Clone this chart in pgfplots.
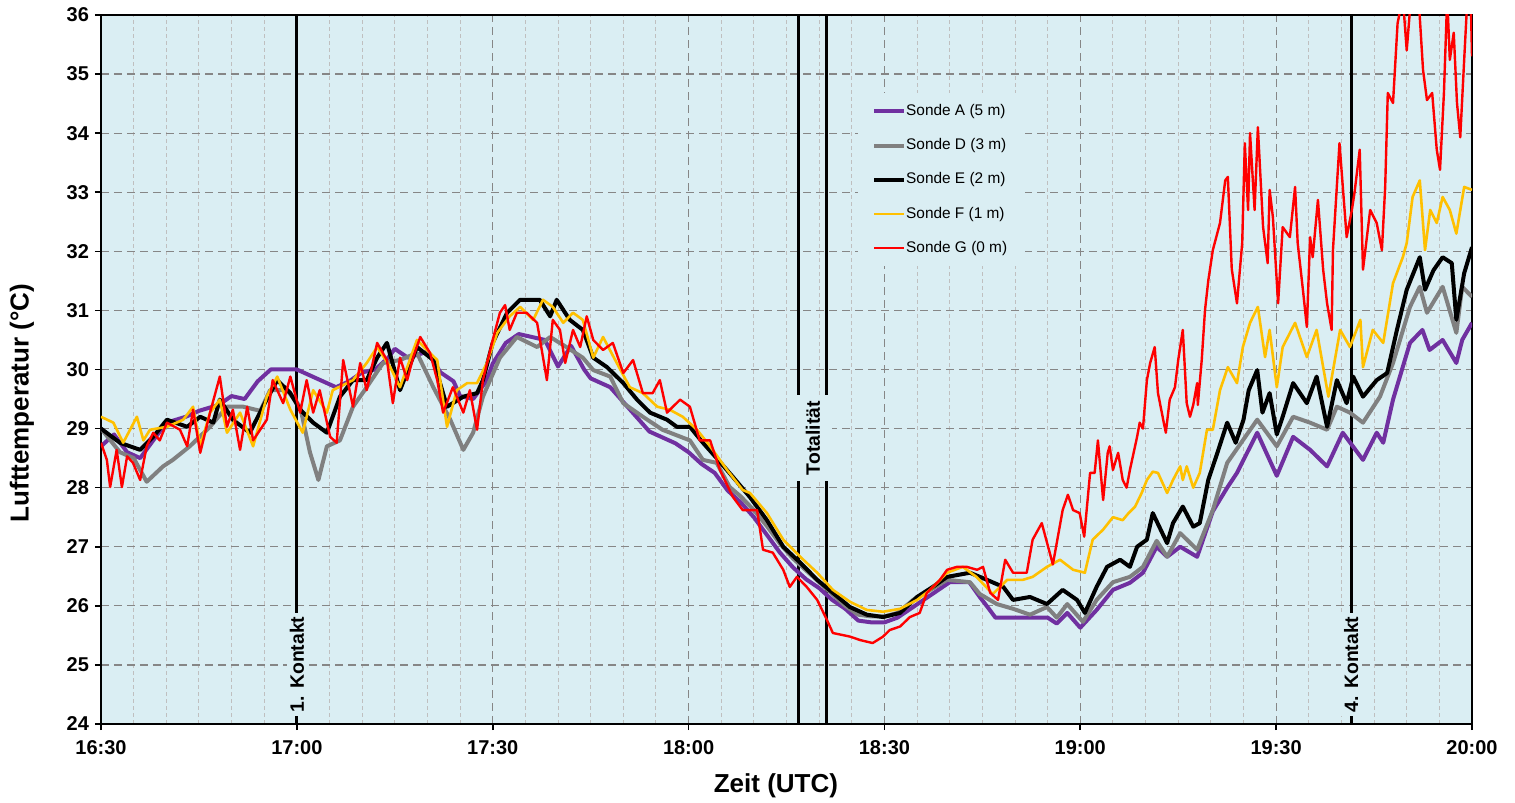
\documentclass[border=0pt]{standalone}
\usepackage{fontspec}
\setmainfont{Liberation Sans}
\usepackage{pgfplots}
\pgfplotsset{compat=1.18}
\definecolor{bgblue}{HTML}{DAEEF3}
\definecolor{sA}{HTML}{7030A0}
\definecolor{sD}{HTML}{808080}
\definecolor{sF}{HTML}{FFC000}
\definecolor{sG}{HTML}{FF0000}
\definecolor{gridc}{HTML}{868686}
\definecolor{minorc}{HTML}{BFBFBF}
\begin{document}
\begin{tikzpicture}
\begin{axis}[
  scale only axis, width=685.5pt, height=354.5pt,
  xmin=0, xmax=210, ymin=24, ymax=36,
  xtick={0,30,...,210},
  xticklabels={16:30,17:00,17:30,18:00,18:30,19:00,19:30,20:00},
  minor x tick num=5,
  ytick={24,25,...,36},
  tick pos=left, tick align=outside,
  major tick length=3pt, minor tick length=0pt,
  major tick style={black, line width=0.8pt},
  grid=both,
  major grid style={gridc, dash pattern=on 4pt off 2.5pt, line width=0.6pt},
  minor grid style={minorc, dash pattern=on 2pt off 1.5pt, line width=0.5pt},
  axis background/.style={fill=bgblue},
  axis line style={black, line width=1pt},
  ticklabel style={font=\bfseries\fontsize{10}{12}\selectfont},
  xticklabel style={yshift=-1.5pt},
  yticklabel style={xshift=0.5pt},
  /pgf/number format/assume math mode=true,
  xlabel={Zeit (UTC)}, ylabel={Lufttemperatur (°C)},
  label style={font=\bfseries\fontsize{13}{15}\selectfont},
  xlabel style={at={(axis description cs:0.4923,-0.087)},anchor=center},
  ylabel style={at={(axis description cs:-0.0576,0.4527)},anchor=center},
  legend cell align=left,
  legend image code/.code={\draw[#1] (0pt,0pt) -- (15pt,0pt);},
  legend style={at={(0.552,0.89)}, anchor=north west, fill=bgblue, draw=none,
    font=\fontsize{7.7}{9}\selectfont, row sep=6pt, inner xsep=7pt, inner ysep=3.5pt,
    /tikz/every odd column/.append style={column sep=-2pt}},
  every axis plot/.append style={line join=round},
]
\coordinate (sw) at (rel axis cs:0,0);
\coordinate (ne) at (rel axis cs:1,1);
% event lines
\addplot[black, line width=1.5pt, forget plot] coordinates {(30,24) (30,36)};
\addplot[black, line width=1.5pt, forget plot] coordinates {(106.9,24) (106.9,36)};
\addplot[black, line width=1.5pt, forget plot] coordinates {(111.2,24) (111.2,36)};
\addplot[black, line width=1.5pt, forget plot] coordinates {(191.5,24) (191.5,36)};

\addplot[sA, line width=2pt] coordinates {
(0,28.7) (2,28.9) (4,28.6) (6,28.5) (8,28.8) (10,29.1) (13,29.2) (15,29.3) (18,29.4) (20,29.55) (22,29.5) (24,29.8) (26,30.0) (28,30.0) (30,30.0) (32,29.9) (34,29.8) (36,29.7) (38,29.8) (40,29.95) (42,30.0) (44,30.2) (45,30.35) (47,30.2) (50,30.3) (52,29.95) (54,29.8) (55,29.55) (57,29.5) (59,29.8) (60,30.1) (62,30.45) (64,30.6) (66,30.55) (68,30.5) (70,30.05) (72,30.4) (74,30.0) (75,29.85) (78,29.7) (80,29.45) (82,29.2) (84,28.95) (86,28.85) (88,28.75) (90,28.6) (92,28.4) (94,28.25) (96,27.95) (98,27.75) (100,27.5) (102,27.2) (104,26.9) (106,26.65) (108,26.45) (110,26.3) (112,26.1) (114,25.95) (116,25.75) (118,25.72) (120,25.72) (122,25.8) (124,25.95) (126,26.1) (128,26.25) (130,26.4) (133,26.4) (134.6,26.15) (136,25.95) (137,25.8) (140,25.8) (143,25.8) (145,25.8) (146.4,25.7) (148,25.88) (150,25.63) (152.5,25.93) (155,26.27) (157.6,26.39) (159.6,26.56) (161.7,27.0) (163.3,26.83) (165.3,27.0) (167.9,26.83) (170.3,27.6) (172.5,28.0) (174,28.25) (177.1,28.93) (180.1,28.2) (182.6,28.86) (185.2,28.64) (187.8,28.36) (190.2,28.93) (193.3,28.47) (195.4,28.93) (196.4,28.76) (197.9,29.49) (200.5,30.45) (202.4,30.67) (203.5,30.33) (205.5,30.5) (207.6,30.11) (208.5,30.5) (210,30.79)};
\addlegendentry{Sonde A (5 m)}

\addplot[sD, line width=2pt] coordinates {
(0,29.0) (2.9,28.6) (5,28.5) (7,28.1) (9.5,28.36) (11,28.47) (13.6,28.7) (16.7,29.03) (19.3,29.37) (21.8,29.37) (24.4,29.3) (25.9,29.65) (28.5,29.65) (30.5,29.37) (32,28.6) (33.3,28.13) (34.6,28.7) (36.6,28.8) (38.6,29.37) (40.7,29.7) (43.2,30.11) (45.8,30.16) (48.4,30.28) (50.9,29.7) (53.5,29.15) (55.5,28.64) (57,28.93) (58.5,29.54) (61.1,30.2) (63.7,30.55) (66.8,30.38) (68.8,30.55) (71,30.4) (73.8,30.2) (75.4,29.99) (78,29.88) (80,29.43) (83,29.2) (86,28.98) (90.2,28.8) (92.2,28.47) (94.3,28.42) (96.3,28.01) (98,27.85) (100,27.62) (102,27.35) (104,27.05) (106,26.8) (108,26.6) (110,26.4) (112,26.2) (114,26.0) (116,25.85) (118,25.82) (120,25.82) (122,25.88) (124.4,26.1) (126,26.2) (129.6,26.44) (133.1,26.4) (134.6,26.2) (137.2,26.03) (139.7,25.95) (142.3,25.85) (144.9,25.98) (146.4,25.8) (148,26.03) (150.4,25.73) (152.5,26.1) (155,26.4) (157.6,26.49) (159.6,26.66) (161.7,27.1) (163.3,26.83) (165.3,27.23) (167.9,26.95) (170.3,27.62) (172.5,28.42) (177.1,29.15) (180.1,28.7) (182.6,29.2) (185.2,29.1) (187.8,28.98) (189.3,29.37) (191.3,29.27) (193.3,29.1) (195.9,29.54) (197.9,30.11) (200.5,31.06) (202,31.4) (203.1,30.96) (205.5,31.4) (207.6,30.62) (208.5,31.4) (210,31.23)};
\addlegendentry{Sonde D (3 m)}

\addplot[black, line width=2pt] coordinates {
(0,29.0) (2.9,28.76) (6,28.64) (8,28.86) (10.1,29.15) (13.2,29.03) (15.2,29.2) (17.2,29.1) (18.2,29.49) (20.2,29.15) (22.8,28.93) (24.8,29.37) (27,29.82) (29,29.6) (30.5,29.32) (32.5,29.1) (34.6,28.93) (36.6,29.54) (38.6,29.82) (40.7,29.82) (42.3,30.2) (43.8,30.45) (45.8,29.65) (48.4,30.38) (50.9,30.16) (53,29.37) (55.5,29.54) (57.6,29.6) (58.5,29.82) (60,30.45) (62.2,30.96) (64.2,31.18) (67.2,31.18) (68.8,30.9) (69.8,31.18) (71.8,30.84) (73.8,30.67) (75.4,30.2) (77.5,30.04) (80,29.77) (82.1,29.49) (84.1,29.27) (86.7,29.15) (88.2,29.03) (90.2,29.03) (92.2,28.76) (94.3,28.5) (96.8,28.18) (99.4,27.84) (102,27.45) (104.5,27.0) (107.1,26.73) (109.7,26.44) (112.1,26.22) (114.7,25.98) (117.3,25.85) (119.8,25.81) (122.4,25.88) (125,26.15) (127.4,26.32) (129.6,26.49) (133.1,26.56) (135.7,26.44) (138.2,26.32) (139.7,26.1) (142.3,26.15) (144.9,26.03) (147.3,26.27) (149.5,26.1) (150.7,25.88) (152.5,26.32) (154.1,26.66) (156.1,26.78) (157.6,26.66) (158.7,27.0) (160.2,27.12) (161.1,27.57) (163.3,27.06) (164.2,27.4) (165.7,27.68) (167.3,27.34) (168.3,27.4) (169.6,28.13) (171,28.59) (172.5,29.1) (173.8,28.76) (175,29.15) (175.8,29.65) (177.1,29.99) (177.9,29.27) (179,29.6) (180.1,28.9) (181,29.2) (182.6,29.77) (184.7,29.43) (186.2,29.88) (187.8,29.03) (189.3,29.82) (190.8,29.43) (191.8,29.88) (193.3,29.54) (195.4,29.82) (197,29.94) (198.5,30.67) (200,31.35) (202,31.9) (202.8,31.35) (204.1,31.68) (205.5,31.9) (206.9,31.8) (207.6,30.84) (208.8,31.63) (210,32.07)};
\addlegendentry{Sonde E (2 m)}

\addplot[sF, line width=1.3pt] coordinates {
(0,29.2) (1.9,29.1) (3.4,28.76) (5.5,29.2) (6.5,28.8) (7.5,28.98) (10.1,29.03) (12.6,29.15) (14.1,29.37) (15.2,28.7) (16.7,29.27) (18.2,29.49) (19.3,28.93) (21.3,29.27) (23.3,28.7) (25.4,29.54) (27,29.88) (29,29.32) (30.9,28.93) (32.5,29.65) (34.6,29.27) (35.5,29.65) (38.6,29.82) (40.7,30.11) (42.3,30.38) (44.3,30.04) (45.8,29.7) (48.4,30.5) (50.4,30.28) (51.5,30.16) (53,29.03) (54.5,29.65) (56.1,29.77) (57.6,29.77) (59.1,30.11) (60.7,30.62) (62.6,30.9) (64.2,31.06) (66.2,30.84) (67.7,31.18) (69.2,31.06) (70.8,30.79) (72.3,30.96) (73.8,30.84) (75.4,30.2) (76.9,30.55) (79,30.11) (81,29.7) (83,29.6) (85.2,29.37) (87.1,29.32) (89.1,29.2) (91.3,28.98) (93.3,28.7) (95.9,28.3) (98.3,27.96) (99.4,27.91) (102,27.57) (104.5,27.12) (107.1,26.83) (109.7,26.56) (112.1,26.27) (114.7,26.07) (117.3,25.93) (119.8,25.9) (122.4,25.95) (125,26.1) (127,26.27) (129.6,26.56) (132,26.66) (134.1,26.49) (136.6,26.2) (138.8,26.44) (141.2,26.44) (142.7,26.49) (144.9,26.66) (146.9,26.78) (148.9,26.61) (150.7,26.56) (151.9,27.12) (153.5,27.29) (155,27.5) (156.5,27.45) (157.4,27.57) (158.4,27.68) (159.4,27.91) (160.2,28.13) (161.1,28.27) (161.9,28.25) (163.3,27.91) (164.2,28.13) (165.3,28.36) (165.7,28.13) (166.3,28.36) (167.3,28.0) (168.3,28.25) (169.4,28.98) (170.3,28.98) (171.4,29.65) (172.6,30.04) (174,29.77) (174.9,30.38) (176,30.79) (177.2,31.06) (178.3,30.21) (179,30.67) (180.1,29.7) (181,30.38) (182.9,30.79) (184.7,30.21) (186.2,30.67) (188,29.54) (189.8,30.67) (191.3,30.38) (192.9,30.84) (193.3,30.04) (194.8,30.67) (196.4,30.45) (197.9,31.46) (199.4,31.9) (200,32.14) (200.9,32.92) (202,33.2) (202.8,32.02) (203.6,32.7) (204.6,32.48) (205.5,32.92) (206.6,32.7) (207.6,32.3) (208.8,33.09) (210,33.04)};
\addlegendentry{Sonde F (1 m)}

\addplot[sG, line width=1.2pt] coordinates {
(0,28.76) (0.9,28.47) (1.4,28.01) (2.4,28.64) (3.2,28.01) (4,28.53) (4.9,28.42) (6,28.13) (7,28.7) (8,28.93) (9,28.8) (10.1,29.1) (12.1,28.98) (13.2,28.7) (14.1,29.32) (15.2,28.59) (16.7,29.27) (18.2,29.88) (19.3,29.03) (20.2,29.32) (21.3,28.64) (22.4,29.37) (23.3,28.8) (25.4,29.15) (26.3,29.82) (27.9,29.43) (29,29.88) (30.5,29.27) (31.5,29.82) (32.5,29.27) (33.5,29.65) (35.1,28.86) (36.1,28.76) (37.1,30.16) (38.6,29.37) (39.7,30.11) (40.7,29.65) (42.3,30.45) (43.8,30.16) (44.7,29.43) (45.8,30.2) (46.9,29.82) (47.8,30.2) (48.9,30.55) (50.4,30.28) (51.5,29.82) (52.4,29.27) (53.9,29.7) (55.5,29.27) (56.5,29.65) (57.6,28.98) (58.5,29.82) (60,30.5) (61.1,30.96) (61.9,31.09) (62.6,30.67) (63.7,30.96) (65.2,30.96) (66.8,30.79) (68.3,29.82) (69.2,30.84) (70.3,30.67) (71.1,30.11) (72.3,30.67) (73.4,30.38) (74.4,30.9) (75.4,30.5) (76.9,30.33) (78.4,30.45) (80,29.94) (81.5,30.16) (83,29.6) (84.5,29.6) (85.6,29.82) (86.7,29.27) (88.7,29.49) (90.2,29.37) (91.7,28.8) (93.3,28.8) (94.8,28.3) (96.8,27.84) (98.3,27.62) (100.5,27.62) (101.4,26.95) (102.9,26.9) (104.5,26.61) (105.5,26.32) (106.6,26.49) (108.1,26.32) (109.7,26.1) (111.2,25.76) (112.1,25.54) (114.7,25.48) (116.3,25.42) (118.2,25.37) (119.8,25.48) (120.8,25.59) (122.4,25.65) (123.9,25.81) (125.4,25.88) (126.5,26.22) (128.5,26.44) (129.6,26.61) (131.1,26.66) (132.6,26.66) (134.2,26.61) (135.1,26.66) (136.2,26.22) (137.4,26.1) (138.5,26.78) (139.7,26.56) (141.8,26.56) (142.7,27.12) (144.1,27.4) (145.8,26.7) (147.3,27.62) (148.1,27.88) (148.9,27.62) (149.9,27.57) (150.6,27.17) (151.5,28.25) (152.2,28.25) (152.7,28.8) (153.5,27.79) (154.2,28.59) (154.5,28.7) (155,28.3) (155.8,28.59) (156.5,28.13) (157.1,28.0) (157.6,28.3) (158.7,28.86) (159.1,29.1) (159.6,29.0) (160.2,29.82) (160.7,30.11) (161.4,30.38) (161.9,29.6) (162.7,29.15) (163.1,28.93) (163.7,29.49) (164.5,29.7) (165,30.16) (165.7,30.67) (166.3,29.43) (166.8,29.2) (167.3,29.4) (167.9,29.77) (168,29.4) (168.6,30.16) (169.1,31.0) (169.6,31.5) (170.3,32.02) (171.4,32.48) (172.2,33.2) (172.6,33.26) (173.2,31.7) (174,31.12) (174.8,32.14) (175.2,33.83) (175.7,32.7) (176,34.0) (176.7,32.7) (177.2,34.1) (178,32.41) (178.7,31.8) (179,33.04) (179.5,32.58) (180.3,31.12) (181,32.41) (182.1,32.24) (182.9,33.09) (183.3,32.14) (184.1,31.35) (184.7,30.72) (185.2,32.24) (185.6,31.9) (186.4,32.87) (187.2,31.69) (187.8,31.12) (188.5,30.67) (188.7,32.02) (189.7,33.83) (190.8,32.24) (191.6,32.7) (192,32.99) (192.8,33.72) (193.3,31.69) (194.4,32.7) (195.4,32.48) (196.2,32.02) (196.7,33.09) (197.1,34.68) (197.9,34.51) (198.6,35.86) (199.4,36.3) (200,35.4) (200.8,36.5) (201.7,36.5) (202.5,35.07) (203.1,34.56) (203.9,34.68) (204.6,33.72) (205.1,33.38) (205.7,34.68) (206.2,36.3) (206.6,35.24) (207.2,35.7) (207.7,34.51) (208.2,33.93) (208.8,35.24) (209.3,36.3) (209.8,36.3) (210,35.3)};
\addlegendentry{Sonde G (0 m)}

\node[fill=bgblue, rotate=90, inner xsep=2pt, inner ysep=1.5pt, font=\bfseries\fontsize{9.7}{11}\selectfont] at (axis cs:30,25.01) {1. Kontakt};
\node[fill=bgblue, rotate=90, inner xsep=2pt, inner ysep=1.5pt, font=\bfseries\fontsize{9.7}{11}\selectfont] at (axis cs:191.5,25.01) {4. Kontakt};
\node[fill=bgblue, rotate=90, inner xsep=3pt, minimum height=19pt, font=\bfseries\fontsize{9.7}{11}\selectfont] at (axis cs:109.05,28.84) {Totalität};
\end{axis}
\pgfresetboundingbox
\useasboundingbox ([xshift=-50.5pt,yshift=-39.5pt]sw) rectangle ([xshift=21.5pt,yshift=7.5pt]ne);
\end{tikzpicture}
\end{document}
